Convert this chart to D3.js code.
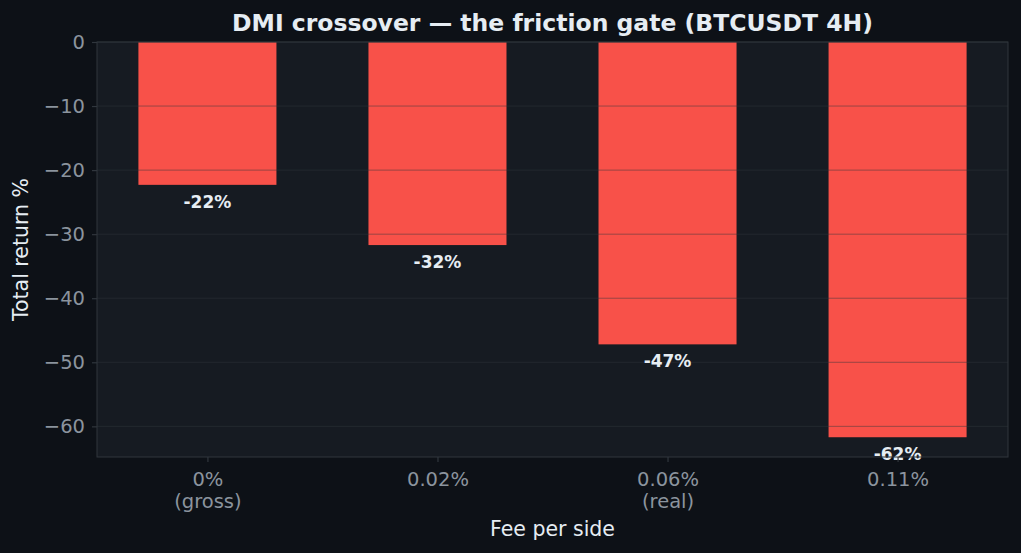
<!DOCTYPE html>
<html>
<head>
<meta charset="utf-8">
<title>DMI crossover friction gate</title>
<script src="https://d3js.org/d3.v7.min.js"></script>
<style>
  html, body { margin: 0; padding: 0; background: #0d1117; }
  svg { display: block; font-family: "DejaVu Sans", sans-serif; }
</style>
</head>
<body>
<div id="chart"></div>
<script>
// data
var fees = ["0%", "0.02%", "0.06%", "0.11%"];
var feeNotes = ["(gross)", "", "(real)", ""];
var totalReturn = [-22.3, -31.7, -47.2, -61.7];
var yTicks = [0, -10, -20, -30, -40, -50, -60];

var W = 1021, H = 553;
var margin = {top: 42, right: 13, bottom: 96, left: 97};
var iw = W - margin.left - margin.right,
    ih = H - margin.top - margin.bottom;

var svg = d3.select("#chart").append("svg")
    .attr("width", W).attr("height", H);

svg.append("rect").attr("width", W).attr("height", H).attr("fill", "#0d1117");

var g = svg.append("g").attr("transform", "translate(" + margin.left + "," + margin.top + ")");

// matplotlib-like axis limits: bars at 0..n-1, width 0.6, 5% x margin
var n = fees.length;
var xpad = 0.3 + 0.05 * (n - 1 + 0.6);
var x = d3.scaleLinear().domain([-xpad, n - 1 + xpad]).range([0, iw]);
var ymin = d3.min(totalReturn) * 1.05;
var y = d3.scaleLinear().domain([ymin, 0]).range([ih, 0]);

g.append("rect").attr("width", iw).attr("height", ih).attr("fill", "#161b22");

// bars
g.selectAll("rect.bar")
  .data(totalReturn)
  .enter().append("rect")
    .attr("class", "bar")
    .attr("x", function(d, i) { return x(i - 0.3); })
    .attr("width", x(0.6) - x(0))
    .attr("y", y(0))
    .attr("height", function(d) { return y(d) - y(0); })
    .attr("fill", "#f85149");

// grid on top of bars
g.selectAll("line.grid")
  .data(yTicks)
  .enter().append("line")
    .attr("class", "grid")
    .attr("x1", 0).attr("x2", iw)
    .attr("y1", function(d) { return y(d); })
    .attr("y2", function(d) { return y(d); })
    .attr("stroke", "#30363d")
    .attr("stroke-opacity", 0.6)
    .attr("stroke-width", 0.8);

// value labels
g.selectAll("text.val")
  .data(totalReturn)
  .enter().append("text")
    .attr("class", "val")
    .attr("x", function(d, i) { return x(i); })
    .attr("y", function(d) { return y(d) + 23; })
    .attr("text-anchor", "middle")
    .attr("fill", "#e6edf3")
    .attr("font-size", "17px")
    .attr("font-weight", "bold")
    .text(function(d) { return Math.round(d) + "%"; });

// frame
g.append("rect").attr("width", iw).attr("height", ih)
  .attr("fill", "none").attr("stroke", "#30363d").attr("stroke-width", 1);

// y axis
var yAxis = g.append("g")
  .call(d3.axisLeft(y).tickValues(yTicks).tickSize(5).tickPadding(7)
    .tickFormat(function(d) { return d < 0 ? "\u2212" + Math.abs(d) : d; }));
yAxis.select(".domain").remove();
yAxis.selectAll(".tick line").attr("stroke", "#30363d").attr("stroke-width", 1.2);
yAxis.selectAll(".tick text").attr("fill", "#8b949e").attr("font-size", "19.5px")
  .attr("font-family", "DejaVu Sans, sans-serif");

// x axis
var xAxis = g.append("g").attr("transform", "translate(0," + ih + ")")
  .call(d3.axisBottom(x).tickValues(d3.range(n)).tickSize(5).tickPadding(10)
    .tickFormat(function(i) { return fees[i]; }));
xAxis.select(".domain").remove();
xAxis.selectAll(".tick line").attr("stroke", "#30363d").attr("stroke-width", 1.2);
xAxis.selectAll(".tick text").attr("fill", "#8b949e").attr("font-size", "19.5px")
  .attr("font-family", "DejaVu Sans, sans-serif")
  .each(function(i) {
    if (feeNotes[i]) {
      d3.select(this).append("tspan").attr("x", 0).attr("dy", "1.13em").text(feeNotes[i]);
    }
  });

// title and axis labels
svg.append("text")
  .attr("x", margin.left + iw / 2).attr("y", 31)
  .attr("text-anchor", "middle").attr("fill", "#e6edf3")
  .attr("font-size", "23.5px").attr("font-weight", "bold")
  .text("DMI crossover \u2014 the friction gate (BTCUSDT 4H)");

svg.append("text")
  .attr("x", margin.left + iw / 2).attr("y", 536)
  .attr("text-anchor", "middle").attr("fill", "#e6edf3")
  .attr("font-size", "20.5px")
  .text("Fee per side");

svg.append("text")
  .attr("transform", "translate(28," + (margin.top + ih / 2) + ") rotate(-90)")
  .attr("text-anchor", "middle").attr("fill", "#e6edf3")
  .attr("font-size", "20.5px")
  .text("Total return %");
</script>
</body>
</html>
